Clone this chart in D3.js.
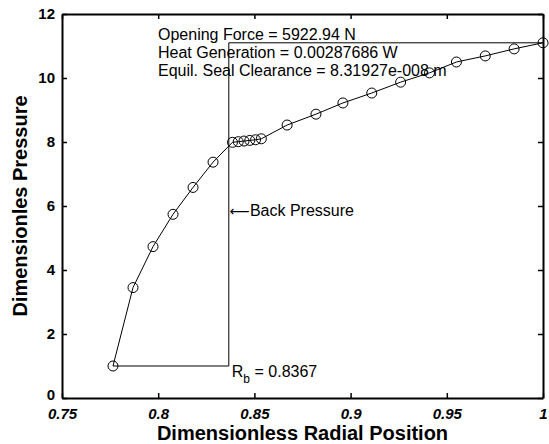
<!DOCTYPE html>
<html>
<head>
<meta charset="utf-8">
<script src="https://cdn.jsdelivr.net/npm/d3@7"></script>
<style>
  body { margin: 0; background: #fff; }
  svg { display: block; font-family: Arial, "Liberation Sans", sans-serif; }
</style>
</head>
<body>
<script>
// pressure profile
const radial = [0.7765, 0.7869, 0.7973, 0.8077, 0.8181, 0.8285, 0.8386,
  0.8416, 0.8446, 0.8476, 0.8506, 0.8536,
  0.867, 0.882, 0.896, 0.911, 0.926, 0.941, 0.955, 0.970, 0.985, 1.0];
const pressure = [1.0, 3.45, 4.73, 5.74, 6.58, 7.37, 7.99,
  8.01, 8.03, 8.05, 8.07, 8.1,
  8.53, 8.87, 9.22, 9.53, 9.87, 10.16, 10.5, 10.69, 10.91, 11.1];

const rb = 0.8367;
const xTicks = [0.75, 0.8, 0.85, 0.9, 0.95, 1];
const yTicks = [0, 2, 4, 6, 8, 10, 12];
const notes = ["Opening Force = 5922.94 N",
  "Heat Generation = 0.00287686 W",
  "Equil. Seal Clearance = 8.31927e-008 m"];

const width = 549, height = 444;
const margin = { top: 14, right: 6, bottom: 46, left: 62 };

const svg = d3.select("body").append("svg")
  .attr("width", width)
  .attr("height", height);

const x = d3.scaleLinear().domain([0.75, 1]).range([margin.left, width - margin.right]);
const y = d3.scaleLinear().domain([0, 12]).range([height - margin.bottom, margin.top]);

// box + inward ticks on all sides
const tickLen = 5;
svg.append("g")
  .attr("transform", `translate(0,${y(0)})`)
  .call(d3.axisBottom(x).tickValues(xTicks).tickSizeInner(-tickLen).tickSizeOuter(0)
    .tickPadding(10).tickFormat(d => d3.format("")(d)))
  .call(g => g.selectAll("text").attr("font-size", 15).attr("font-weight", "bold")
    .attr("font-style", "italic").attr("fill", "#000"));
svg.append("g")
  .attr("transform", `translate(0,${y(12)})`)
  .call(d3.axisTop(x).tickValues(xTicks).tickSizeInner(-tickLen).tickSizeOuter(0).tickFormat(""));
svg.append("g")
  .attr("transform", `translate(${x(0.75)},0)`)
  .call(d3.axisLeft(y).tickValues(yTicks).tickSizeInner(-tickLen).tickSizeOuter(0).tickPadding(7))
  .call(g => g.selectAll("text").attr("font-size", 15).attr("font-weight", "bold").attr("fill", "#000"))
  .call(g => g.selectAll(".tick").filter(d => d === 0).select("text").attr("dy", "0.1em"));
svg.append("g")
  .attr("transform", `translate(${x(1)},0)`)
  .call(d3.axisRight(y).tickValues(yTicks).tickSizeInner(-tickLen).tickSizeOuter(0).tickFormat(""));

svg.selectAll(".domain").attr("stroke", "#000").attr("stroke-width", 2);
svg.selectAll(".tick line").attr("stroke", "#000").attr("stroke-width", 1.5);

// back pressure bracket
const last = radial.length - 1;
svg.append("path")
  .attr("d", d3.line()([
    [x(radial[0]), y(pressure[0])],
    [x(rb), y(pressure[0])],
    [x(rb), y(pressure[last])],
    [x(radial[last]), y(pressure[last])]
  ]))
  .attr("fill", "none")
  .attr("stroke", "#000")
  .attr("stroke-width", 1);

// profile line + markers
const pts = radial.map((r, i) => [r, pressure[i]]);
svg.append("path")
  .datum(pts)
  .attr("d", d3.line().x(d => x(d[0])).y(d => y(d[1])))
  .attr("fill", "none")
  .attr("stroke", "#000")
  .attr("stroke-width", 1);
svg.selectAll("circle.pt")
  .data(pts)
  .join("circle")
  .attr("class", "pt")
  .attr("cx", d => x(d[0]))
  .attr("cy", d => y(d[1]))
  .attr("r", 5)
  .attr("fill", "none")
  .attr("stroke", "#000")
  .attr("stroke-width", 1);

// annotations
svg.append("g")
  .selectAll("text")
  .data(notes)
  .join("text")
  .attr("x", 158)
  .attr("y", (d, i) => 40 + i * 18)
  .attr("font-size", 16)
  .text(d => d);

const bp = svg.append("text")
  .attr("x", x(rb) + 1)
  .attr("y", 216)
  .attr("font-size", 16);
bp.append("tspan").attr("font-family", "DejaVu Sans").attr("font-size", 14).text("\u27F5");
bp.append("tspan").text("Back Pressure");

const rbText = svg.append("text")
  .attr("x", x(rb) + 3)
  .attr("y", 377)
  .attr("font-size", 16);
rbText.append("tspan").text("R");
rbText.append("tspan").attr("dy", 6).attr("font-size", 12).text("b");
rbText.append("tspan").attr("dy", -6).text(" = " + rb);

// axis titles
svg.append("text")
  .attr("x", (x(0.75) + x(1)) / 2)
  .attr("y", 440)
  .attr("text-anchor", "middle")
  .attr("font-size", 20)
  .attr("font-weight", "bold")
  .text("Dimensionless Radial Position");

svg.append("text")
  .attr("transform", `translate(27,${(y(0) + y(12)) / 2}) rotate(-90)`)
  .attr("text-anchor", "middle")
  .attr("font-size", 20)
  .attr("font-weight", "bold")
  .text("Dimensionles Pressure");
</script>
</body>
</html>
